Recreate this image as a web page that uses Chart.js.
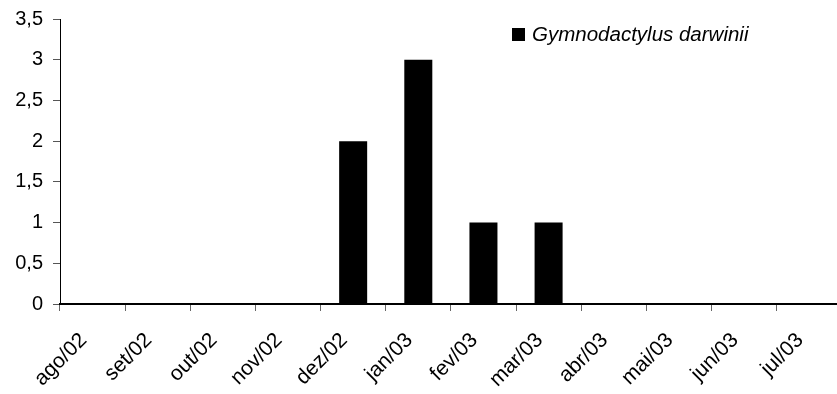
<!DOCTYPE html>
<html>
<head>
<meta charset="utf-8">
<script src="https://cdn.jsdelivr.net/npm/chart.js@4/dist/chart.umd.min.js"></script>
<style>
  html, body { margin: 0; padding: 0; background: #fff; overflow: hidden; }
  #wrap { position: relative; width: 844px; height: 397px; margin-top: -3px; }
</style>
</head>
<body>
<div id="wrap"><canvas id="chartSpecies"></canvas></div>
<script>
// dados mensais
const months = ['ago/02', 'set/02', 'out/02', 'nov/02', 'dez/02', 'jan/03', 'fev/03', 'mar/03', 'abr/03', 'mai/03', 'jun/03', 'jul/03'];
const darwiniiCounts = [0, 0, 0, 0, 2, 3, 1, 1, 0, 0, 0, 0];
const seriesName = 'Gymnodactylus darwinii';
const yTicks = [0, 0.5, 1, 1.5, 2, 2.5, 3, 3.5];

const FONT = "'Liberation Sans', Arial, sans-serif";

// legenda desenhada dentro da área do gráfico
const insideLegend = {
    id: 'insideLegend',
    afterDraw(chart) {
        const ctx = chart.ctx;
        const ds = chart.data.datasets[0];
        ctx.save();
        ctx.fillStyle = ds.backgroundColor;
        ctx.fillRect(512, 31, 13, 13);
        ctx.font = "italic 20.5px " + FONT;
        ctx.fillStyle = '#000';
        ctx.textBaseline = 'alphabetic';
        ctx.textAlign = 'left';
        ctx.fillText(ds.label, 532, 44);
        ctx.restore();
    }
};

const ctx = document.getElementById('chartSpecies').getContext('2d');
new Chart(ctx, {
    type: 'bar',
    data: {
        labels: months,
        datasets: [{
            label: seriesName,
            data: darwiniiCounts,
            backgroundColor: '#000',
            borderWidth: 0,
            barPercentage: 0.43,
            categoryPercentage: 1
        }]
    },
    options: {
        responsive: true,
        maintainAspectRatio: false,
        animation: false,
        layout: { padding: { top: 16, right: 0, left: 0, bottom: 0 } },
        plugins: { legend: { display: false }, tooltip: { enabled: false } },
        scales: {
            x: {
                grid: { offset: true, drawOnChartArea: false, drawTicks: true, tickLength: 7, color: '#666' },
                border: { display: true, color: '#000', width: 2 },
                ticks: { color: '#000', font: { family: FONT, size: 21 }, minRotation: 45, maxRotation: 45, padding: 17, labelOffset: -9, autoSkip: false },
                afterFit: (s) => { s.height = 90; }
            },
            y: {
                min: 0, max: 3.5,
                afterBuildTicks: (s) => { s.ticks = yTicks.map(v => ({ value: v })); },
                grid: { drawOnChartArea: false, drawTicks: true, tickLength: 7, color: '#555' },
                border: { display: true, color: '#000', width: 1 },
                ticks: {
                    color: '#000', font: { family: FONT, size: 20 }, padding: 10,
                    callback: (v) => String(v).replace('.', ',')
                },
                afterFit: (s) => { s.width = 60; }
            }
        }
    },
    plugins: [insideLegend]
});
</script>
</body>
</html>
